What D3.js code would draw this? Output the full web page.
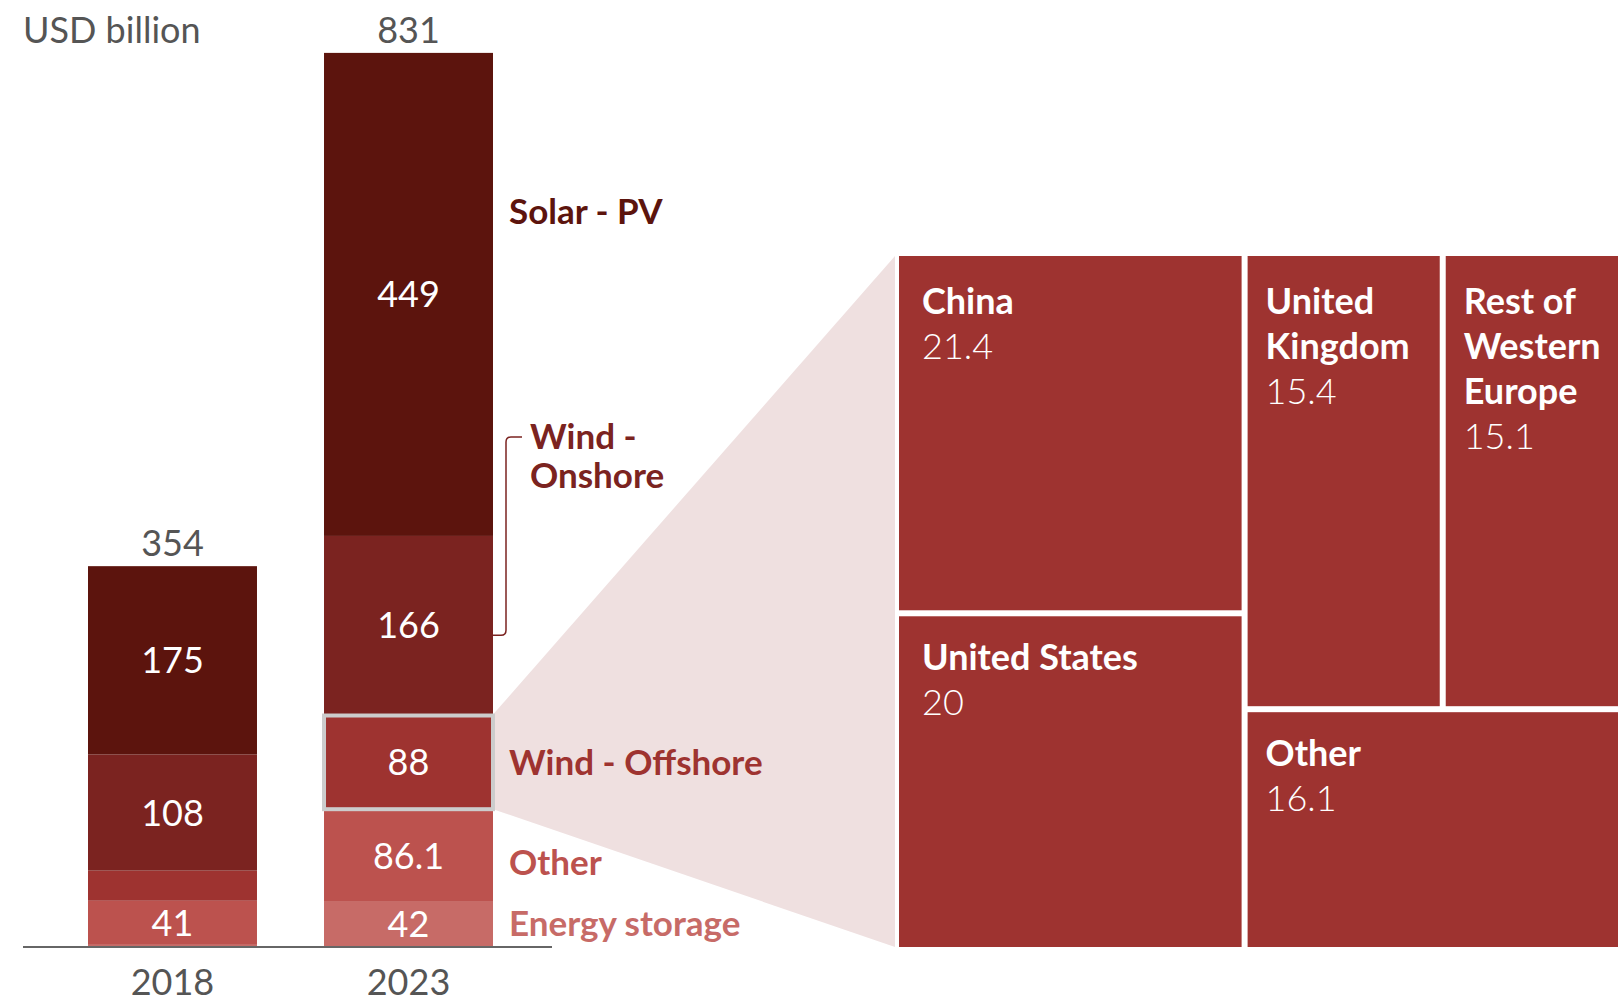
<!DOCTYPE html>
<html>
<head>
<meta charset="utf-8">
<script src="https://cdn.jsdelivr.net/npm/d3@7"></script>
<style>
  body { margin: 0; background: #fff; }
  text { font-family: Lato, "Open Sans", sans-serif; }
</style>
</head>
<body>
<script>
// data
var years = ["2018", "2023"];
var series = ["Solar - PV", "Wind - Onshore", "Wind - Offshore", "Other", "Energy storage"];
var values2018 = [175, 108, 28, 41, 2];
var values2023 = [449, 166, 88, 86.1, 42];
var totals = [354, 831];
var seriesLabels = [["Solar - PV"], ["Wind -", "Onshore"], ["Wind - Offshore"], ["Other"], ["Energy storage"]];

var offshoreMarkets = ["China", "United States", "United Kingdom", "Rest of Western Europe", "Other"];
var offshoreValues = [21.4, 20, 15.4, 15.1, 16.1];
var offshoreLabels = [["China"], ["United States"], ["United", "Kingdom"], ["Rest of", "Western", "Europe"], ["Other"]];

var colors = ["#5c140d", "#7b2320", "#9e3330", "#bc524e", "#c76b67"];

// set dimensions
var width = 1618;
var height = 1004;

var svg = d3.select("body")
    .append("svg")
    .attr("width", width)
    .attr("height", height);

// table for the stack
var table = years.map(function(y, i) {
    var row = { year: y };
    var vals = i === 0 ? values2018 : values2023;
    series.forEach(function(s, j) { row[s] = vals[j]; });
    return row;
});

var stack = d3.stack().keys(series.slice().reverse());
var stacked = stack(table);

// scales
var xScale = d3.scaleBand()
    .domain(years)
    .range([88, 493])
    .paddingInner(0.284)
    .paddingOuter(0);

var yScale = d3.scaleLinear()
    .domain([0, 831])
    .range([947, 53]);

var color = d3.scaleOrdinal().domain(series).range(colors);

// fan from the offshore segment to the treemap
var tmX = 899, tmY = 256, tmW = 735, tmH = 691;
var off = stacked.find(function(s) { return s.key === "Wind - Offshore"; })[1];
var boxRight = xScale("2023") + xScale.bandwidth();
svg.append("polygon")
    .attr("points", [
        [boxRight, yScale(off[1])],
        [tmX - 4, tmY],
        [tmX - 4, tmY + tmH],
        [boxRight, yScale(off[0])]
    ].join(" "))
    .attr("fill", "#efe0e0");

// bars
svg.selectAll("g.layer")
    .data(stacked)
    .enter()
    .append("g")
    .attr("class", "layer")
    .attr("fill", d => color(d.key))
    .selectAll("rect")
    .data(d => d)
    .enter()
    .append("rect")
    .attr("x", d => xScale(d.data.year))
    .attr("y", d => yScale(d[1]))
    .attr("width", xScale.bandwidth())
    .attr("height", d => yScale(d[0]) - yScale(d[1]));

// highlight box around offshore 2023
svg.append("rect")
    .attr("x", xScale("2023"))
    .attr("y", yScale(off[1]) + 1)
    .attr("width", xScale.bandwidth())
    .attr("height", yScale(off[0]) - yScale(off[1]) - 1)
    .attr("fill", "none")
    .attr("stroke", "#cccccc")
    .attr("stroke-width", 4);

// segment value labels
stacked.forEach(function(layer) {
    layer.forEach(function(d) {
        var h = yScale(d[0]) - yScale(d[1]);
        if (h < 40) return;
        svg.append("text")
            .attr("x", xScale(d.data.year) + xScale.bandwidth() / 2)
            .attr("y", (yScale(d[0]) + yScale(d[1])) / 2 + 13)
            .attr("text-anchor", "middle")
            .attr("fill", "#fff")
            .attr("font-size", "36px")
            .text(d.data[layer.key]);
    });
});

// totals
svg.selectAll("text.total")
    .data(years)
    .enter()
    .append("text")
    .attr("class", "total")
    .attr("x", d => xScale(d) + xScale.bandwidth() / 2)
    .attr("y", (d, i) => yScale(totals[i]) - 10)
    .attr("text-anchor", "middle")
    .attr("fill", "#555")
    .attr("font-size", "36px")
    .text((d, i) => totals[i]);

// axis
var xAxis = d3.axisBottom(xScale).tickSize(0).tickPadding(22);
var axisG = svg.append("g")
    .attr("transform", "translate(0, 947)")
    .call(xAxis);
axisG.select(".domain").remove();
axisG.selectAll("text")
    .attr("fill", "#555")
    .attr("font-size", "36px")
    .attr("font-family", "Lato, sans-serif");
svg.append("line")
    .attr("x1", 23).attr("x2", 552)
    .attr("y1", 947).attr("y2", 947)
    .attr("stroke", "#666")
    .attr("stroke-width", 2);

svg.append("text")
    .attr("x", 23)
    .attr("y", 43)
    .attr("fill", "#555")
    .attr("font-size", "36px")
    .text("USD billion");

// series labels next to the 2023 bar
var bar23 = stacked.map(s => s[1]);
var labelPos = [
    { x: 509, y: 224 },
    { x: 530, y: 449 },
    { x: 509, y: (yScale(bar23[2][0]) + yScale(bar23[2][1])) / 2 + 13 },
    { x: 509, y: (yScale(bar23[1][0]) + yScale(bar23[1][1])) / 2 + 19 },
    { x: 509, y: (yScale(bar23[0][0]) + yScale(bar23[0][1])) / 2 + 12 }
];
series.forEach(function(s, i) {
    var lines = seriesLabels[i];
    var t = svg.append("text")
        .attr("fill", colors[i])
        .attr("font-size", "35px")
        .attr("font-weight", "bold");
    lines.forEach(function(line, k) {
        t.append("tspan")
            .attr("x", labelPos[i].x)
            .attr("y", labelPos[i].y + k * 39)
            .text(line);
    });
});

// bracket for onshore
var on = stacked.find(s => s.key === "Wind - Onshore")[1];
var bMid = (yScale(on[0]) + yScale(on[1])) / 2 + 10;
svg.append("path")
    .attr("d", "M522,437 H511 Q506,437 506,442 V" + (bMid - 5) + " Q506," + bMid + " 501," + bMid + " H" + boxRight)
    .attr("fill", "none")
    .attr("stroke", colors[1])
    .attr("stroke-width", 1.5);

// treemap of offshore wind
var leaf = i => ({ name: offshoreMarkets[i], value: offshoreValues[i], lines: offshoreLabels[i] });
var treeData = {
    children: [
        { children: [leaf(0), leaf(1)] },
        { children: [{ children: [leaf(2), leaf(3)] }, leaf(4)] }
    ]
};

var root = d3.hierarchy(treeData).sum(d => d.value || 0);
d3.treemap()
    .tile(d3.treemapSliceDice)
    .size([tmW, tmH])
    .paddingInner(6)(root);

var cells = svg.append("g")
    .attr("transform", "translate(" + tmX + "," + tmY + ")")
    .selectAll("g")
    .data(root.leaves())
    .enter()
    .append("g")
    .attr("transform", d => "translate(" + d.x0 + "," + d.y0 + ")");

cells.append("rect")
    .attr("width", d => d.x1 - d.x0)
    .attr("height", d => d.y1 - d.y0)
    .attr("fill", colors[2]);

cells.each(function(d) {
    var g = d3.select(this);
    var tx = d.x0 === 0 ? 23 : 18;
    var ty = d.y0 === 0 ? 58 : 54;
    d.data.lines.forEach(function(line, k) {
        g.append("text")
            .attr("x", tx)
            .attr("y", ty + k * 45)
            .attr("fill", "#fff")
            .attr("font-size", "36px")
            .attr("font-weight", "bold")
            .text(line);
    });
    g.append("text")
        .attr("x", tx)
        .attr("y", ty + d.data.lines.length * 45)
        .attr("fill", "#fff")
        .attr("font-size", "36px")
        .attr("font-weight", 300)
        .text(d.data.value);
});
</script>
</body>
</html>
